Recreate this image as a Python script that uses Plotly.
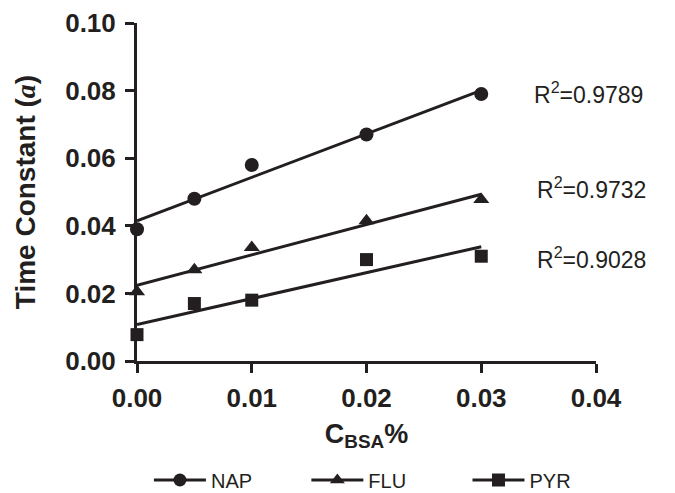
import numpy as np
import plotly.graph_objects as go

c_bsa = [0.0, 0.005, 0.01, 0.02, 0.03]
nap = [0.039, 0.048, 0.058, 0.067, 0.079]
flu = [0.0205, 0.027, 0.0336, 0.0415, 0.0478]
pyr = [0.0078, 0.017, 0.018, 0.030, 0.031]
series_names = ["NAP", "FLU", "PYR"]
symbols = ["circle", "triangle-up", "square"]
r2_labels = ["0.9789", "0.9732", "0.9028"]
x_ticks = [0.0, 0.01, 0.02, 0.03, 0.04]
y_ticks = [0.0, 0.02, 0.04, 0.06, 0.08, 0.10]

INK = "#231f20"
FONT = "Liberation Sans, Arial, sans-serif"

fig = go.Figure()
label_pos = [(0.0344, 0.0793), (0.0347, 0.0512), (0.0347, 0.0305)]
legend_ids = ["legend", "legend2", "legend3"]
legend_x = [0.026, 0.369, 0.720]
for name, ys, sym, r2, (lx, ly), lid in zip(series_names, [nap, flu, pyr], symbols, r2_labels, label_pos, legend_ids):
    slope, icpt = np.polyfit(c_bsa, ys, 1)
    xf = [c_bsa[0], c_bsa[-1]]
    yf = [icpt + slope * v for v in xf]
    fig.add_trace(go.Scatter(x=xf, y=yf, mode="lines", line=dict(color=INK, width=3),
                             showlegend=False, hoverinfo="skip", cliponaxis=False))
    fig.add_trace(go.Scatter(x=c_bsa, y=ys, mode="markers", name=name,
                             marker=dict(symbol=sym, size=14 if sym != "square" else 13, color=INK),
                             showlegend=False, cliponaxis=False))
    fig.add_trace(go.Scatter(x=[None], y=[None], mode="lines+markers", name=name,
                             line=dict(color=INK, width=3), legend=lid,
                             marker=dict(symbol=sym, size=13, color=INK)))
    fig.add_annotation(x=lx, y=ly, xref="x", yref="y", text=f"R<sup>2</sup>={r2}",
                       showarrow=False, xanchor="left", yanchor="middle",
                       font=dict(family=FONT, size=23, color=INK))

fig.update_xaxes(range=[0, 0.04], tickvals=x_ticks, tickformat=".2f",
                 showline=True, linecolor=INK, linewidth=3, ticks="outside",
                 tickwidth=3, ticklen=9, tickcolor=INK, showgrid=False, zeroline=False,
                 ticklabelstandoff=3,
                 tickfont=dict(family=FONT, size=26, color=INK, weight="bold"),
                 title=dict(text="C<sub>BSA</sub>%", standoff=12,
                            font=dict(family=FONT, size=27, color=INK, weight="bold")))
fig.update_yaxes(range=[0, 0.10], tickvals=y_ticks, tickformat=".2f",
                 showline=True, linecolor=INK, linewidth=3, ticks="outside",
                 tickwidth=3, ticklen=9, tickcolor=INK, showgrid=False, zeroline=False,
                 ticklabelstandoff=4,
                 tickfont=dict(family=FONT, size=26, color=INK, weight="bold"),
                 title=dict(text="Time Constant (<i style='font-family:Liberation Serif'>a</i>)", standoff=22,
                            font=dict(family=FONT, size=28, color=INK, weight="bold")))

leg_common = dict(orientation="h", xanchor="left", y=-0.352, yanchor="middle",
                  font=dict(family=FONT, size=20, color=INK), itemwidth=52,
                  bgcolor="rgba(0,0,0,0)")
fig.update_layout(
    width=675, height=493,
    margin=dict(l=137, r=79, t=23, b=132, autoexpand=False),
    plot_bgcolor="white", paper_bgcolor="white",
    legend=dict(x=legend_x[0], **leg_common),
    legend2=dict(x=legend_x[1], **leg_common),
    legend3=dict(x=legend_x[2], **leg_common),
)

fig.write_html("out.html")
